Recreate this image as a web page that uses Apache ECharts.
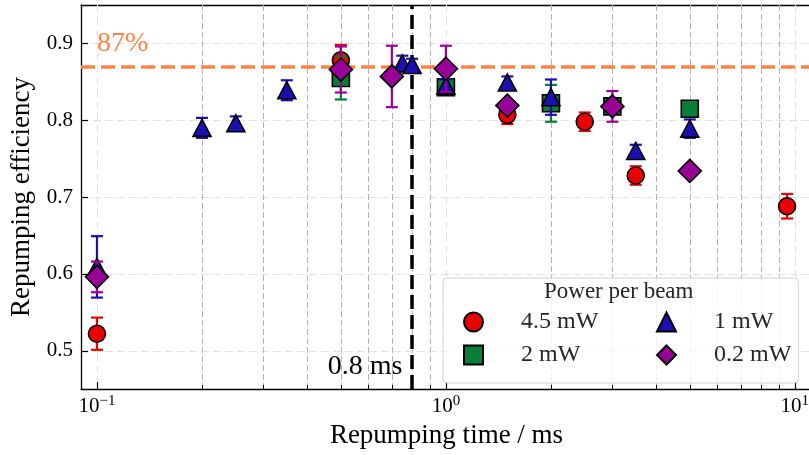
<!DOCTYPE html>
<html><head><meta charset="utf-8">
<script src="https://cdn.jsdelivr.net/npm/echarts@6/dist/echarts.min.js"></script>
<style>html,body{margin:0;padding:0;background:#fff}#c{width:809px;height:455px}</style>
</head><body><div id="c"></div>
<script>
const FONT = '"Liberation Serif", "Times New Roman", "DejaVu Serif", serif';

// ---- data (repumping time in ms, efficiency, error) ----
const times45 = [0.1, 0.5, 1.5, 2.5, 3.5, 9.5];
const eff45   = [0.522, 0.878, 0.807, 0.798, 0.728, 0.688];
const err45   = [0.021, 0.020, 0.012, 0.012, 0.012, 0.016];

const times2 = [0.5, 1.0, 2.0, 3.0, 5.0];
const eff2   = [0.855, 0.843, 0.822, 0.818, 0.815];
const err2   = [0.028, 0.006, 0.024, 0.006, 0.006];

const times1 = [0.1, 0.2, 0.25, 0.35, 0.75, 0.8, 1.0, 1.5, 2.0, 3.5, 5.0];
const eff1   = [0.609, 0.790, 0.796, 0.839, 0.874, 0.872, 0.845, 0.849, 0.830, 0.760, 0.789];
const err1   = [0.040, 0.013, 0.009, 0.013, 0.010, 0.008, 0.008, 0.008, 0.023, 0.008, 0.012];

const times02 = [0.1, 0.5, 0.7, 1.0, 1.5, 3.0, 5.0];
const eff02   = [0.596, 0.866, 0.857, 0.867, 0.819, 0.818, 0.734];
const err02   = [0.020, 0.030, 0.040, 0.030, 0.005, 0.020, 0.005];

const seriesNames = ['4.5 mW', '2 mW', '1 mW', '0.2 mW'];
const legendColumn1 = ['4.5 mW', '2 mW'];
const legendColumn2 = ['1 mW', '0.2 mW'];

// ---- ticks / reference values ----
const xMajorTicks = [0.1, 1, 10];
const xMinorTicks = [0.2, 0.3, 0.4, 0.5, 0.6, 0.7, 0.8, 0.9, 2, 3, 4, 5, 6, 7, 8, 9];
const yTicks = [0.5, 0.6, 0.7, 0.8, 0.9];
const refEfficiency = 0.87;
const refTime = 0.8;
const refEffLabel = '87%';
const refTimeLabel = '0.8 ms';

const chart = echarts.init(document.getElementById('c'), null, {renderer: 'canvas'});

const crisp = v => Math.round(v) + 0.5;

function errSeries(name, times, eff, err, color, z) {
  return {
    type: 'custom', name: name + ' err', z: z, silent: true,
    encode: {x: 0, y: 1},
    data: times.map((t, i) => [t, eff[i], err[i]]),
    renderItem(params, api) {
      const t = api.value(0), v = api.value(1), e = api.value(2);
      const top = api.coord([t, v + e]);
      const bot = api.coord([t, v - e]);
      const x = top[0];
      const st = {stroke: color, lineWidth: 2.2};
      return {type: 'group', children: [
        {type: 'line', shape: {x1: x, y1: top[1], x2: x, y2: bot[1]}, style: st},
        {type: 'line', shape: {x1: x - 6, y1: top[1], x2: x + 6, y2: top[1]}, style: st},
        {type: 'line', shape: {x1: x - 6, y1: bot[1], x2: x + 6, y2: bot[1]}, style: st}
      ]};
    }
  };
}
function markerSeries(name, times, eff, color, symbol, size, z) {
  return {
    type: 'scatter', name: name, z: z, symbol: symbol, symbolSize: size,
    data: times.map((t, i) => [t, eff[i]]),
    itemStyle: {color: color, borderColor: '#000', borderWidth: 1.6, opacity: 1},
    emphasis: {disabled: true}
  };
}

const colors = {r: '#ea0000', g: '#077f3a', b: '#1c0fb2', p: '#990099'};

const legendCommon = {
  orient: 'vertical', itemGap: 9, itemWidth: 19, itemHeight: 19, selectedMode: false,
  textStyle: {fontFamily: FONT, fontSize: 24, color: '#262626', padding: [0, 0, 0, 33]}
};

const option = {
  animation: false,
  backgroundColor: '#fff',
  grid: {left: 81, right: -3, top: 5, bottom: 66, containLabel: false, outerBoundsMode: 'none'},
  title: {
    text: 'Power per beam', left: 544, top: 280, padding: 0, z: 22,
    textStyle: {fontFamily: FONT, fontSize: 23, fontWeight: 'normal', color: '#262626'}
  },
  legend: [
    Object.assign({}, legendCommon, {
      left: 443, top: 278, padding: [32, 200, 16, 20], z: 20,
      backgroundColor: 'rgba(255,255,255,0.8)', borderColor: '#d0d0d0', borderWidth: 1, borderRadius: 4,
      data: legendColumn1
    }),
    Object.assign({}, legendCommon, {
      left: 656, top: 310, padding: 0, z: 21,
      data: legendColumn2
    })
  ],
  xAxis: [{
    type: 'log', logBase: 10, min: 0.09, max: 11.2,
    name: 'Repumping time / ms', nameLocation: 'middle', nameGap: 33,
    nameTextStyle: {fontFamily: FONT, fontSize: 27, color: '#000'},
    axisLine: {show: true, lineStyle: {color: '#000', width: 1.3}},
    axisTick: {show: false}, splitLine: {show: false}, minorTick: {show: false}, minorSplitLine: {show: false},
    axisLabel: {
      margin: 5, color: '#000', fontFamily: FONT,
      formatter: v => {
        const e = Math.log10(v);
        if (Math.abs(e - Math.round(e)) > 1e-6) return '';
        const r = Math.round(e);
        return '{b|10}{s|' + (r < 0 ? '\u2212' + (-r) : r) + '}';
      },
      rich: {
        b: {fontFamily: FONT, fontSize: 21, color: '#000'},
        s: {fontFamily: FONT, fontSize: 15, color: '#000', padding: [0, 0, 10, 0]}
      }
    }
  }, {
    type: 'log', logBase: 10, min: 0.09, max: 11.2, position: 'top',
    axisLine: {show: true, lineStyle: {color: '#000', width: 1.3}},
    axisTick: {show: false}, axisLabel: {show: false}, splitLine: {show: false}
  }],
  yAxis: {
    type: 'value', min: 0.45, max: 0.95, interval: 0.05,
    name: 'Repumping efficiency', nameLocation: 'middle', nameGap: 43,
    nameTextStyle: {fontFamily: FONT, fontSize: 27, color: '#000'},
    axisLine: {show: true, lineStyle: {color: '#000', width: 1.3}},
    axisTick: {show: false}, splitLine: {show: false},
    axisLabel: {
      margin: 8, color: '#000', fontFamily: FONT, fontSize: 21,
      formatter: v => yTicks.some(t => Math.abs(t - v) < 1e-6) ? v.toFixed(1) : ''
    }
  },
  series: [
    // horizontal grid + y ticks
    {
      type: 'custom', z: 1, silent: true, data: yTicks.map(v => [1, v]),
      renderItem(params, api) {
        const cs = params.coordSys;
        const y = crisp(api.coord([1, api.value(1)])[1]);
        return {type: 'group', children: [
          {type: 'line', shape: {x1: cs.x, y1: y, x2: cs.x + cs.width, y2: y}, style: {stroke: '#e2e2e2', lineWidth: 1, lineDash: [8, 4]}},
          {type: 'line', shape: {x1: cs.x, y1: y, x2: cs.x + 7, y2: y}, style: {stroke: '#000', lineWidth: 1.2}}
        ]};
      }
    },
    // major vertical grid + ticks
    {
      type: 'custom', z: 1, silent: true, data: xMajorTicks.map(t => [t, 0.7]),
      renderItem(params, api) {
        const cs = params.coordSys;
        const x = crisp(api.coord([api.value(0), 0.7])[0]);
        const b = cs.y + cs.height;
        return {type: 'group', children: [
          {type: 'line', shape: {x1: x, y1: cs.y, x2: x, y2: b}, style: {stroke: '#e2e2e2', lineWidth: 1, lineDash: [8, 4]}},
          {type: 'line', shape: {x1: x, y1: b, x2: x, y2: b - 7}, style: {stroke: '#000', lineWidth: 1.2}}
        ]};
      }
    },
    // minor vertical grid + ticks
    {
      type: 'custom', z: 1, silent: true, data: xMinorTicks.map(t => [t, 0.7]),
      renderItem(params, api) {
        const cs = params.coordSys;
        const x = crisp(api.coord([api.value(0), 0.7])[0]);
        const b = cs.y + cs.height;
        return {type: 'group', children: [
          {type: 'line', shape: {x1: x, y1: cs.y, x2: x, y2: b}, style: {stroke: '#b4b4b4', lineWidth: 1, lineDash: [6, 3]}},
          {type: 'line', shape: {x1: x, y1: b, x2: x, y2: b - 4}, style: {stroke: '#000', lineWidth: 1}}
        ]};
      }
    },
    // reference lines
    {
      type: 'custom', z: 2, silent: true, data: [],
      renderItem() { return null; },
      markLine: {
        silent: true, symbol: 'none', animation: false, label: {show: false},
        data: [
          {yAxis: refEfficiency, lineStyle: {color: '#ff8247', width: 3.5, type: [14, 6]}},
          {xAxis: refTime, lineStyle: {color: '#000', width: 3.5, type: [14, 6]}}
        ]
      }
    },
    // annotations
    {
      type: 'custom', z: 2, silent: true,
      data: [[0.1, 0.9], [0.75, 0.479]],
      renderItem(params, api) {
        const p = api.coord([api.value(0), api.value(1)]);
        const first = params.dataIndex === 0;
        return {type: 'text', x: p[0], y: p[1], style: {
          text: first ? refEffLabel : refTimeLabel,
          fill: first ? '#ff8247' : '#000',
          font: '28px ' + FONT,
          align: first ? 'left' : 'right', verticalAlign: 'middle'
        }};
      }
    },
    errSeries(seriesNames[0], times45, eff45, err45, colors.r, 3),
    markerSeries(seriesNames[0], times45, eff45, colors.r, 'circle', 17, 4),
    errSeries(seriesNames[1], times2, eff2, err2, colors.g, 5),
    markerSeries(seriesNames[1], times2, eff2, colors.g, 'rect', 17, 6),
    errSeries(seriesNames[2], times1, eff1, err1, colors.b, 7),
    markerSeries(seriesNames[2], times1, eff1, colors.b, 'triangle', [18, 17], 8),
    errSeries(seriesNames[3], times02, eff02, err02, colors.p, 9),
    markerSeries(seriesNames[3], times02, eff02, colors.p, 'diamond', 23, 10)
  ]
};
chart.setOption(option);
</script>
</body></html>
